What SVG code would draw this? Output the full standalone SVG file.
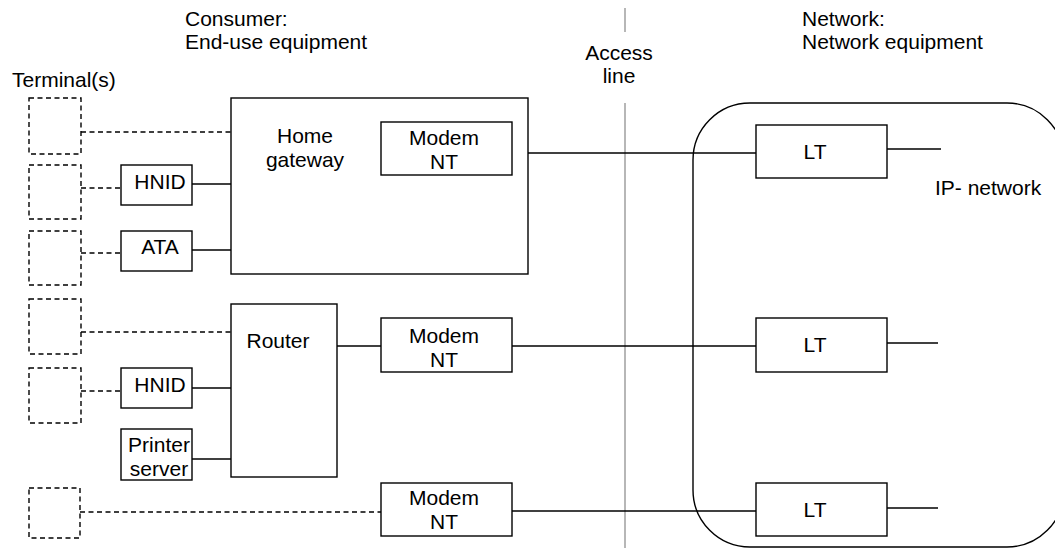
<svg xmlns="http://www.w3.org/2000/svg" width="1055" height="548" viewBox="0 0 1055 548">
<style>
text{font-family:"Liberation Sans",Arial,sans-serif;font-size:21px;fill:#000}
.m{text-anchor:middle}
.box{fill:#fff;stroke:#000;stroke-width:1.4}
.term{fill:none;stroke:#000;stroke-width:1.4;stroke-dasharray:5,3.5}
.s{stroke:#000;stroke-width:1.4;fill:none}
.d{stroke:#000;stroke-width:1.4;fill:none;stroke-dasharray:5,3.5}
</style>
<rect width="1055" height="548" fill="#fff"/>
<g id="labels">
<text x="185" y="26">Consumer:</text>
<text x="185" y="49">End-use equipment</text>
<text x="802" y="26">Network:</text>
<text x="802" y="49">Network equipment</text>
<text x="12" y="87">Terminal(s)</text>
<text class="m" x="619" y="60">Access</text>
<text class="m" x="619" y="83">line</text>
</g>
<g id="access-line">
<line x1="625" y1="8" x2="625" y2="32" stroke="#999" stroke-width="1.4"/>
<line x1="625" y1="103" x2="625" y2="548" stroke="#999" stroke-width="1.4"/>
</g>
<g id="ip-network">
<rect x="693" y="103" width="371" height="444" rx="57" ry="57" fill="none" stroke="#000" stroke-width="1.4"/>
<text x="935" y="195">IP- network</text>
</g>
<g id="connectors">
<line class="d" x1="81" y1="132" x2="231" y2="132"/>
<line class="d" x1="81" y1="188" x2="121" y2="188"/>
<line class="d" x1="81" y1="253" x2="121" y2="253"/>
<line class="d" x1="81" y1="332" x2="231" y2="332"/>
<line class="d" x1="81" y1="391" x2="121" y2="391"/>
<line class="d" x1="80" y1="512" x2="383" y2="512"/>
<line class="s" x1="192" y1="184" x2="231" y2="184"/>
<line class="s" x1="192" y1="250" x2="231" y2="250"/>
<line class="s" x1="192" y1="388" x2="231" y2="388"/>
<line class="s" x1="192" y1="459" x2="231" y2="459"/>
<line class="s" x1="337" y1="346" x2="381" y2="346"/>
<line class="s" x1="512" y1="153" x2="756" y2="153"/>
<line class="s" x1="512" y1="346" x2="756" y2="346"/>
<line class="s" x1="512" y1="511" x2="756" y2="511"/>
<line class="s" x1="887" y1="149" x2="941" y2="149"/>
<line class="s" x1="887" y1="343" x2="938" y2="343"/>
<line class="s" x1="887" y1="508" x2="938" y2="508"/>
</g>
<g id="terminal1"><rect class="term" x="29" y="98" width="52" height="56"/></g>
<g id="terminal2"><rect class="term" x="29" y="165" width="52" height="54"/></g>
<g id="terminal3"><rect class="term" x="29" y="231" width="52" height="54"/></g>
<g id="terminal4"><rect class="term" x="29" y="299" width="52" height="55"/></g>
<g id="terminal5"><rect class="term" x="29" y="368" width="52" height="55"/></g>
<g id="terminal6"><rect class="term" x="29" y="488" width="51" height="50"/></g>
<g id="home-gateway">
<rect class="box" x="231" y="98" width="297" height="176"/>
<text class="m" x="305" y="143">Home</text>
<text class="m" x="305" y="167">gateway</text>
</g>
<g id="modem1">
<rect class="box" x="381" y="122" width="131" height="53"/>
<text class="m" x="444" y="145">Modem</text>
<text class="m" x="444" y="169">NT</text>
</g>
<g id="hnid1">
<rect class="box" x="121" y="165" width="71" height="40"/>
<text class="m" x="160" y="189">HNID</text>
</g>
<g id="ata">
<rect class="box" x="121" y="231" width="71" height="40"/>
<text class="m" x="160" y="254">ATA</text>
</g>
<g id="router">
<rect class="box" x="231" y="304" width="106" height="173"/>
<text class="m" x="278" y="348">Router</text>
</g>
<g id="modem2">
<rect class="box" x="381" y="318" width="131" height="54"/>
<text class="m" x="444" y="343">Modem</text>
<text class="m" x="444" y="367">NT</text>
</g>
<g id="hnid2">
<rect class="box" x="121" y="368" width="71" height="40"/>
<text class="m" x="160" y="392">HNID</text>
</g>
<g id="printer-server">
<rect class="box" x="121" y="429" width="71" height="51"/>
<text class="m" x="159" y="452">Printer</text>
<text class="m" x="159" y="476">server</text>
</g>
<g id="modem3">
<rect class="box" x="381" y="483" width="131" height="53"/>
<text class="m" x="444" y="505">Modem</text>
<text class="m" x="444" y="529">NT</text>
</g>
<g id="lt1">
<rect class="box" x="756" y="125" width="131" height="53"/>
<text class="m" x="815" y="159">LT</text>
</g>
<g id="lt2">
<rect class="box" x="756" y="318" width="131" height="54"/>
<text class="m" x="815" y="352">LT</text>
</g>
<g id="lt3">
<rect class="box" x="756" y="483" width="131" height="53"/>
<text class="m" x="815" y="517">LT</text>
</g>
</svg>
